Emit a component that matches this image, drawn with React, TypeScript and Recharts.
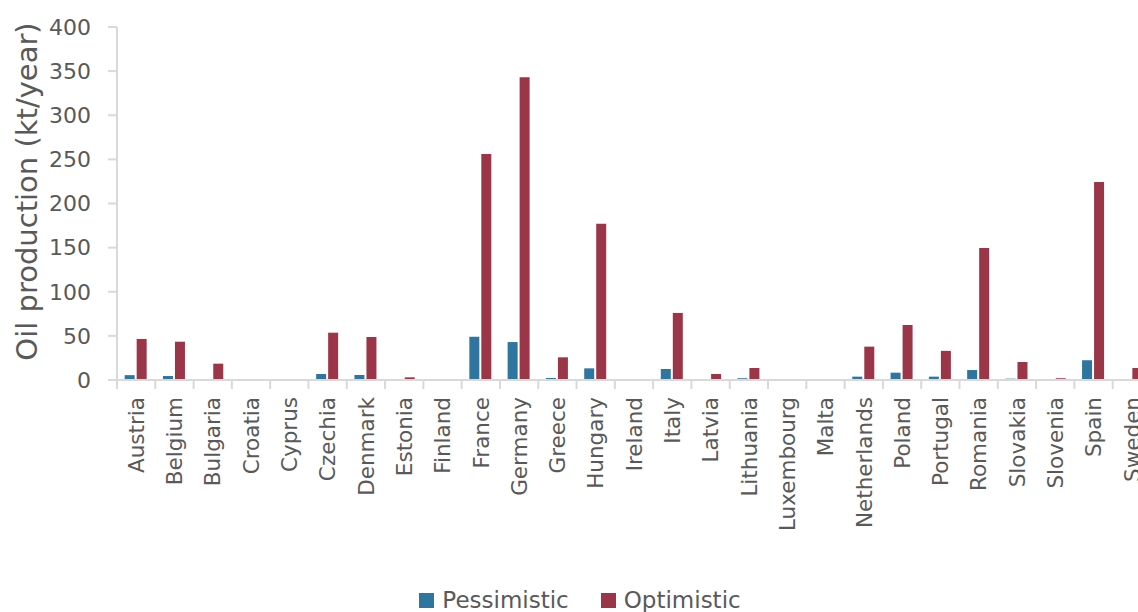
import React from "react";
import { BarChart, Bar, XAxis, YAxis, Legend } from "recharts";

const categories = [
  "Austria", "Belgium", "Bulgaria", "Croatia", "Cyprus", "Czechia", "Denmark", "Estonia", "Finland",
  "France", "Germany", "Greece", "Hungary", "Ireland", "Italy", "Latvia", "Lithuania", "Luxembourg",
  "Malta", "Netherlands", "Poland", "Portugal", "Romania", "Slovakia", "Slovenia", "Spain", "Sweden",
];
const pessimistic = [
  5.5, 4.5, 1, 0, 0, 6.8, 5.7, 0.2, 0,
  49, 43, 2.3, 13.2, 0, 12.5, 0.2, 2, 0.5,
  0, 3.8, 8.3, 3.8, 11.3, 1.5, 0, 22.4, 1,
];
const optimistic = [
  46.5, 43.4, 18.5, 0, 0.6, 53.6, 48.7, 3, 0,
  256, 343, 25.7, 177, 0.6, 76, 6.8, 13.6, 0.7,
  0, 37.8, 62.3, 33, 149.5, 20.4, 2, 224.5, 13.6,
];
const yTicks = [0, 50, 100, 150, 200, 250, 300, 350, 400];
const seriesNames = ["Pessimistic", "Optimistic"];
const seriesColors = ["#2E75A0", "#9B3548"];

const data = categories.map((c, i) => ({
  country: c,
  pessimistic: pessimistic[i],
  optimistic: optimistic[i],
}));

const FONT = "'DejaVu Sans', sans-serif";
const TEXT = "#595959";
const AXIS = "#D9D9D9";

const XTick = (props: any) => {
  const { x, y, payload } = props;
  const half = payload && payload.offset ? payload.offset : 19.15;
  return (
    <g>
      <line x1={x - half} y1={y} x2={x - half} y2={y + 9} stroke={AXIS} strokeWidth={2} />
      <text
        x={x}
        y={y + 17}
        transform={`rotate(-90, ${x}, ${y + 17})`}
        textAnchor="end"
        dy="0.36em"
        fill={TEXT}
        fontSize={21.5}
        fontFamily={FONT}
      >
        {payload.value}
      </text>
    </g>
  );
};

const LegendContent = () => (
  <div
    style={{
      display: "flex",
      justifyContent: "center",
      alignItems: "flex-end",
      height: 32,
      boxSizing: "border-box",
      paddingLeft: 22,
      fontFamily: FONT,
      fontSize: 23,
      lineHeight: "23px",
      color: TEXT,
    }}
  >
    {seriesNames.map((n, i) => (
      <span key={n} style={{ display: "flex", alignItems: "center", marginRight: i === 0 ? 32 : 0 }}>
        <span style={{ display: "inline-block", width: 15, height: 15, background: seriesColors[i], marginRight: 8 }} />
        {n}
      </span>
    ))}
  </div>
);

export default function App() {
  return (
    <div style={{ position: "absolute", left: 0, top: 0, width: 1138, height: 612, overflow: "hidden", background: "#fff" }}>
      <BarChart
        width={1138}
        height={612}
        data={data}
        margin={{ top: 27, right: -13, left: 0, bottom: 0 }}
        barCategoryGap="20%"
        barGap={2}
      >
        <YAxis
          width={117}
          domain={[0, 400]}
          ticks={yTicks}
          interval={0}
          axisLine={{ stroke: AXIS, strokeWidth: 2 }}
          tickLine={{ stroke: AXIS, strokeWidth: 2 }}
          tickSize={9}
          tickMargin={17}
          tick={{ fill: TEXT, fontSize: 22, fontFamily: FONT }}
          label={({ viewBox }: any) => (
            <text
              x={37}
              y={viewBox.y + viewBox.height / 2 - 12}
              transform={`rotate(-90, 37, ${viewBox.y + viewBox.height / 2 - 12})`}
              textAnchor="middle"
              fill={TEXT}
              fontSize={29}
              fontFamily={FONT}
            >
              Oil production (kt/year)
            </text>
          )}
        />
        <XAxis
          dataKey="country"
          height={200}
          interval={0}
          axisLine={{ stroke: AXIS, strokeWidth: 2 }}
          tickLine={false}
          tickSize={0}
          tickMargin={0}
          tick={<XTick />}
        />
        <Legend
          verticalAlign="bottom"
          height={32}
          wrapperStyle={{ left: 0, width: 1138 }}
          content={<LegendContent />}
        />
        <Bar dataKey="pessimistic" name={seriesNames[0]} fill={seriesColors[0]} isAnimationActive={false} />
        <Bar dataKey="optimistic" name={seriesNames[1]} fill={seriesColors[1]} isAnimationActive={false} />
      </BarChart>
    </div>
  );
}
